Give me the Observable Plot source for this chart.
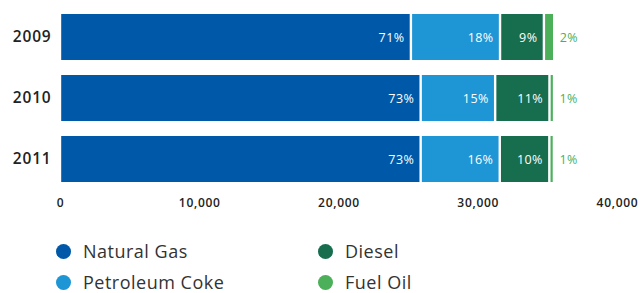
<!DOCTYPE html>
<html>
<head>
<meta charset="utf-8">
<script src="https://cdn.jsdelivr.net/npm/d3@7"></script>
<script src="https://cdn.jsdelivr.net/npm/@observablehq/plot@0.6"></script>
<style>
  html, body { margin: 0; padding: 0; background: #fff; }
  body { width: 642px; height: 293px; overflow: hidden; font-family: "Open Sans", sans-serif; }
  #chart svg { overflow: visible; display: block; }
  #chart g[aria-label="x-axis tick label"] { letter-spacing: 0.7px; }
  #chart g[aria-label="y-axis tick label"] { letter-spacing: 0.8px; }
  #chart g[aria-label="text"] { letter-spacing: 0.4px; }
  #legend { position: relative; height: 78px; width: 642px; }
  .item { position: absolute; display: flex; align-items: center; height: 18px; transform: translateY(-50%); }
  .dot { width: 15px; height: 15px; border-radius: 50%; margin-right: 12px; }
  .lab { font-size: 18px; line-height: 18px; color: #333; font-weight: 400; letter-spacing: 0.5px; }
</style>
</head>
<body>
<div id="chart"></div>
<div id="legend"></div>
<script>
const years = ["2009", "2010", "2011"];
const fuels = ["Natural Gas", "Petroleum Coke", "Diesel", "Fuel Oil"];
const colors = ["#0059A8", "#1E95D4", "#176E4F", "#4CAF5A"];
const naturalGas = [25200, 25900, 25900];
const petroleumCoke = [6400, 5350, 5680];
const diesel = [3150, 3900, 3560];
const fuelOil = [740, 330, 330];
const naturalGasPct = [71, 73, 73];
const petroleumCokePct = [18, 15, 16];
const dieselPct = [9, 11, 10];
const fuelOilPct = [2, 1, 1];
const xTicks = [0, 10000, 20000, 30000, 40000];

const series = [naturalGas, petroleumCoke, diesel, fuelOil];
const pcts = [naturalGasPct, petroleumCokePct, dieselPct, fuelOilPct];
const rows = [];
years.forEach((year, i) => {
  fuels.forEach((fuel, j) => {
    rows.push({year, fuel, value: series[j][i], pct: pcts[j][i]});
  });
});

const chart = Plot.plot({
  width: 642,
  height: 215,
  marginLeft: 60,
  marginRight: 25,
  marginTop: 6,
  marginBottom: 24,
  style: {fontFamily: "'Open Sans', sans-serif", color: "#222", background: "#fff"},
  x: {domain: [0, 40000]},
  y: {domain: years, paddingInner: 0.24, paddingOuter: 0.12},
  color: {domain: fuels, range: colors},
  marks: [
    Plot.barX(rows, Plot.stackX({x: "value", y: "year", fill: "fuel", insetLeft: 1.2, insetRight: 1.2})),
    Plot.text(rows, Plot.stackX2({
      x: "value", y: "year",
      text: d => d.fuel !== "Fuel Oil" ? d.pct + "%" : null,
      textAnchor: "end", dx: -7, fill: "white", fontSize: 12.5, fontWeight: 500
    })),
    Plot.text(rows, Plot.stackX2({
      x: "value", y: "year",
      text: d => d.fuel === "Fuel Oil" ? d.pct + "%" : null,
      textAnchor: "start", dx: 5, fill: colors[3], fontSize: 12.5, fontWeight: 500
    })),
    Plot.axisX({ticks: xTicks, tickSize: 0, tickPadding: 7, tickFormat: d3.format(","), fontSize: 12, fontWeight: 600, label: null}),
    Plot.axisY({tickSize: 0, tickPadding: 9, fontSize: 15.5, fontWeight: 600, label: null})
  ]
});
document.getElementById("chart").appendChild(chart);

const legend = document.getElementById("legend");
const pos = [[56, 36], [56, 67], [318, 36], [318, 67]];
fuels.forEach((f, i) => {
  const it = document.createElement("div");
  it.className = "item";
  it.style.left = pos[i][0] + "px";
  it.style.top = pos[i][1] + "px";
  const dot = document.createElement("div");
  dot.className = "dot";
  dot.style.background = colors[i];
  const lab = document.createElement("span");
  lab.className = "lab";
  lab.textContent = f;
  it.appendChild(dot);
  it.appendChild(lab);
  legend.appendChild(it);
});
</script>
</body>
</html>
